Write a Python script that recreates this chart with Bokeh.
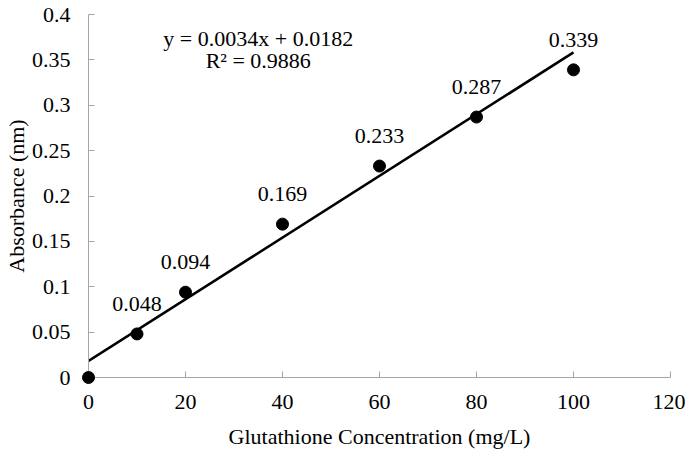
from bokeh.plotting import figure
from bokeh.models import ColumnDataSource, Range1d, Label, FixedTicker, LabelSet
from bokeh.embed import file_html
from bokeh.resources import INLINE

# data
conc = [0, 10, 20, 40, 60, 80, 100]
absorb = [0.0, 0.048, 0.094, 0.169, 0.233, 0.287, 0.339]
slope = 0.0034
intercept = 0.0182
r2 = 0.9886
x_ticks = [0, 20, 40, 60, 80, 100, 120]
y_ticks = [0, 0.05, 0.1, 0.15, 0.2, 0.25, 0.3, 0.35, 0.4]

FONT = "Liberation Serif"
FS = "22px"

p = figure(width=685, height=451, output_backend="svg", toolbar_location=None,
           x_range=Range1d(0, 120), y_range=Range1d(0, 0.4),
           min_border_left=88, min_border_right=15, min_border_top=14, min_border_bottom=74)
p.outline_line_color = None
p.xgrid.visible = False
p.ygrid.visible = False

for ax in (p.xaxis[0], p.yaxis[0]):
    ax.axis_line_color = "#a6a6a6"
    ax.major_tick_line_color = "#a6a6a6"
    ax.major_tick_in = 6
    ax.major_tick_out = 0
    ax.minor_tick_line_color = None
    ax.major_label_text_font = FONT
    ax.major_label_text_font_size = FS
    ax.major_label_text_color = "black"
    ax.axis_label_text_font = FONT
    ax.axis_label_text_font_size = FS
    ax.axis_label_text_font_style = "normal"
    ax.axis_label_text_color = "black"

p.xaxis.ticker = FixedTicker(ticks=x_ticks)
p.yaxis.ticker = FixedTicker(ticks=y_ticks)
p.yaxis.major_label_overrides = {t: ("0" if t == 0 else f"{t:g}") for t in y_ticks}
p.xaxis.major_label_standoff = 17
p.yaxis.major_label_standoff = 18
p.xaxis.axis_label = "Glutathione Concentration (mg/L)"
p.yaxis.axis_label = "Absorbance (nm)"
p.xaxis.axis_label_standoff = 12
p.yaxis.axis_label_standoff = 0

# trendline
tx = [conc[0], conc[-1]]
ty = [slope * x + intercept for x in tx]
p.line(tx, ty, line_color="black", line_width=2.6)

src = ColumnDataSource(dict(x=conc, y=absorb))
p.scatter("x", "y", source=src, size=12, fill_color="black", line_color="black",
          level="overlay")

lab_src = ColumnDataSource(dict(x=conc[1:], y=absorb[1:], t=[f"{v:.3f}" for v in absorb[1:]]))
p.add_layout(LabelSet(x="x", y="y", text="t", source=lab_src, y_offset=30,
                      text_align="center", text_baseline="middle",
                      text_font=FONT, text_font_size=FS, text_color="black"))

p.add_layout(Label(x=35, y=0.374, text=f"y = {slope}x + {intercept}",
                   text_align="center", text_baseline="middle",
                   text_font=FONT, text_font_size=FS, text_color="black"))
p.add_layout(Label(x=35, y=0.349, text=f"R² = {r2}",
                   text_align="center", text_baseline="middle",
                   text_font=FONT, text_font_size=FS, text_color="black"))

open("out.html", "w").write(file_html(p, INLINE))
